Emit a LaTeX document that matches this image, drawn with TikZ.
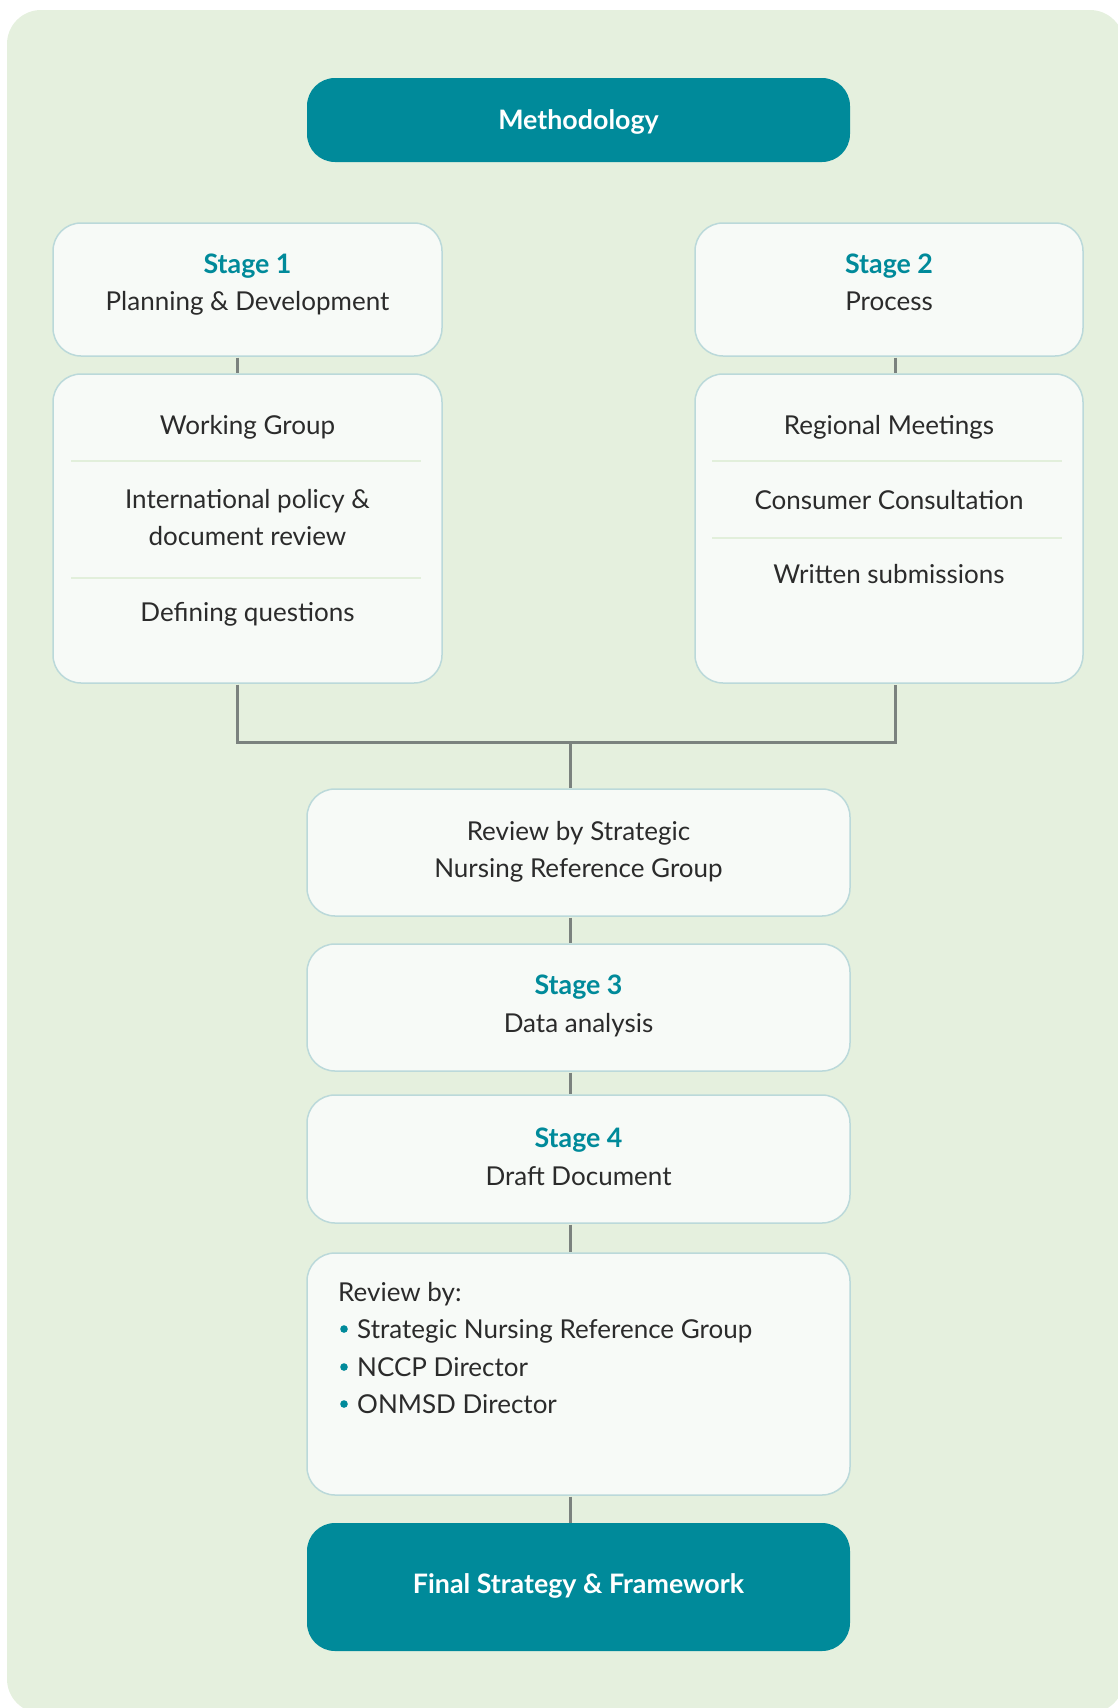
\documentclass[tikz,border=0pt]{standalone}
\usepackage{fontspec}
\setmainfont{Lato}
\definecolor{bgcol}{HTML}{E5F0DE}
\definecolor{teal}{HTML}{008A9A}
\definecolor{boxfill}{HTML}{F7FAF7}
\definecolor{boxline}{HTML}{BBD9DA}
\definecolor{conn}{HTML}{7B827E}
\definecolor{sepcol}{HTML}{E2EFDB}
\definecolor{ink}{HTML}{2B2B2B}
\begin{document}
\begin{tikzpicture}[x=1pt,y=-1pt,
  box/.style={draw=boxline, line width=1.5pt, fill=boxfill, rounded corners=28pt, inner sep=0pt},
  tealbox/.style={fill=teal, rounded corners=28pt, inner sep=0pt},
  txt/.style={font=\fontsize{26}{37}\selectfont, text=ink, anchor=base, inner sep=0pt},
  ttl/.style={font=\fontsize{26.8}{37}\selectfont\bfseries, text=teal, anchor=base, inner sep=0pt},
  wtxt/.style={font=\fontsize{26.8}{37}\selectfont\bfseries, text=white, anchor=base, inner sep=0pt},
  itm/.style={txt, anchor=base west},
  conn/.style={draw=conn, line width=3pt},
  sepline/.style={draw=sepcol, line width=2.5pt}
]
\useasboundingbox (0,0) rectangle (1118,1708);
\fill[bgcol, rounded corners=34pt] (7,10) rectangle (1124,1713);

\coordinate (j) at (570,742);

% boxes
\node[tealbox, minimum width=543pt, minimum height=84pt] (meth) at (578.5,120) {};
\node[box, minimum width=389pt, minimum height=133pt] (s1) at (247.5,289.5) {};
\node[box, minimum width=389pt, minimum height=309pt] (s1d) at (247.5,528.5) {};
\node[box, minimum width=388pt, minimum height=133pt] (s2) at (889,289.5) {};
\node[box, minimum width=388pt, minimum height=309pt] (s2d) at (889,528.5) {};
\node[box, minimum width=543pt, minimum height=127pt] (rev) at (578.5,852.5) {};
\node[box, minimum width=543pt, minimum height=127pt] (s3) at (578.5,1007.5) {};
\node[box, minimum width=543pt, minimum height=128pt] (s4) at (578.5,1159) {};
\node[box, minimum width=543pt, minimum height=242pt] (revby) at (578.5,1374) {};
\node[tealbox, minimum width=543pt, minimum height=128pt] (final) at (578.5,1587) {};

% connectors
\draw[conn] ([xshift=-10.5pt,yshift=-0.75pt]s1.south) -- ([xshift=-10.5pt,yshift=0.75pt]s1d.north);
\draw[conn] ([xshift=6pt,yshift=-0.75pt]s2.south) -- ([xshift=6pt,yshift=0.75pt]s2d.north);
\draw[conn] ([xshift=-10.5pt,yshift=-0.75pt]s1d.south) |- (j) -| ([xshift=6pt,yshift=-0.75pt]s2d.south);
\draw[conn] (j) -- ([yshift=0.75pt]rev.north -| j);
\draw[conn] ([xshift=-8.5pt,yshift=-0.75pt]rev.south) -- ([xshift=-8.5pt,yshift=0.75pt]s3.north);
\draw[conn] ([xshift=-8.5pt,yshift=-0.75pt]s3.south) -- ([xshift=-8.5pt,yshift=0.75pt]s4.north);
\draw[conn] ([xshift=-8.5pt,yshift=-0.75pt]s4.south) -- ([xshift=-8.5pt,yshift=0.75pt]revby.north);
\draw[conn] ([xshift=-8.5pt,yshift=-0.75pt]revby.south) -- ([xshift=-8.5pt]final.north);

% separators
\draw[sepline] (71,461) -- (421,461);
\draw[sepline] (71,578) -- (421,578);
\draw[sepline] (712,461) -- (1062,461);
\draw[sepline] (712,538) -- (1062,538);

% texts
\node[wtxt] (methT) at (578.5,129) {Methodology};
\node[ttl] (s1a) at (247.5,273) {Stage 1};
\node[txt] (s1b) at (247.5,310) {Planning \& Development};
\node[txt] (s1c) at (247.5,434) {Working Group};
\node[txt] (s1e) at (247.5,508) {International policy \&};
\node[txt] (s1f) at (247.5,545) {document review};
\node[txt] (s1g) at (247.5,621) {Defining questions};

\node[ttl] (s2a) at (889,273) {Stage 2};
\node[txt] (s2b) at (889,310) {Process};
\node[txt] (s2c) at (889,434) {Regional Meetings};
\node[txt] (s2e) at (889,509) {Consumer Consultation};
\node[txt] (s2f) at (889,583) {Written submissions};

\node[txt] (reva) at (578.5,840) {Review by Strategic};
\node[txt] (revb) at (578.5,877) {Nursing Reference Group};

\node[ttl] (s3a) at (578.5,994) {Stage 3};
\node[txt] (s3b) at (578.5,1032) {Data analysis};
\node[ttl] (s4a) at (578.5,1147) {Stage 4};
\node[txt] (s4b) at (578.5,1185) {Draft Document};

\node[itm] (rb0) at (338,1301) {Review by:};
\node[itm] (rb1) at (357,1338) {Strategic Nursing Reference Group};
\node[itm] (rb2) at (357,1376) {NCCP Director};
\node[itm] (rb3) at (357,1413) {ONMSD Director};
\fill[teal] (344,1329) circle (3.8pt);
\fill[teal] (344,1367) circle (3.8pt);
\fill[teal] (344,1404) circle (3.8pt);

\node[wtxt] (finT) at (578.5,1593) {Final Strategy \& Framework};
\end{tikzpicture}
\end{document}
